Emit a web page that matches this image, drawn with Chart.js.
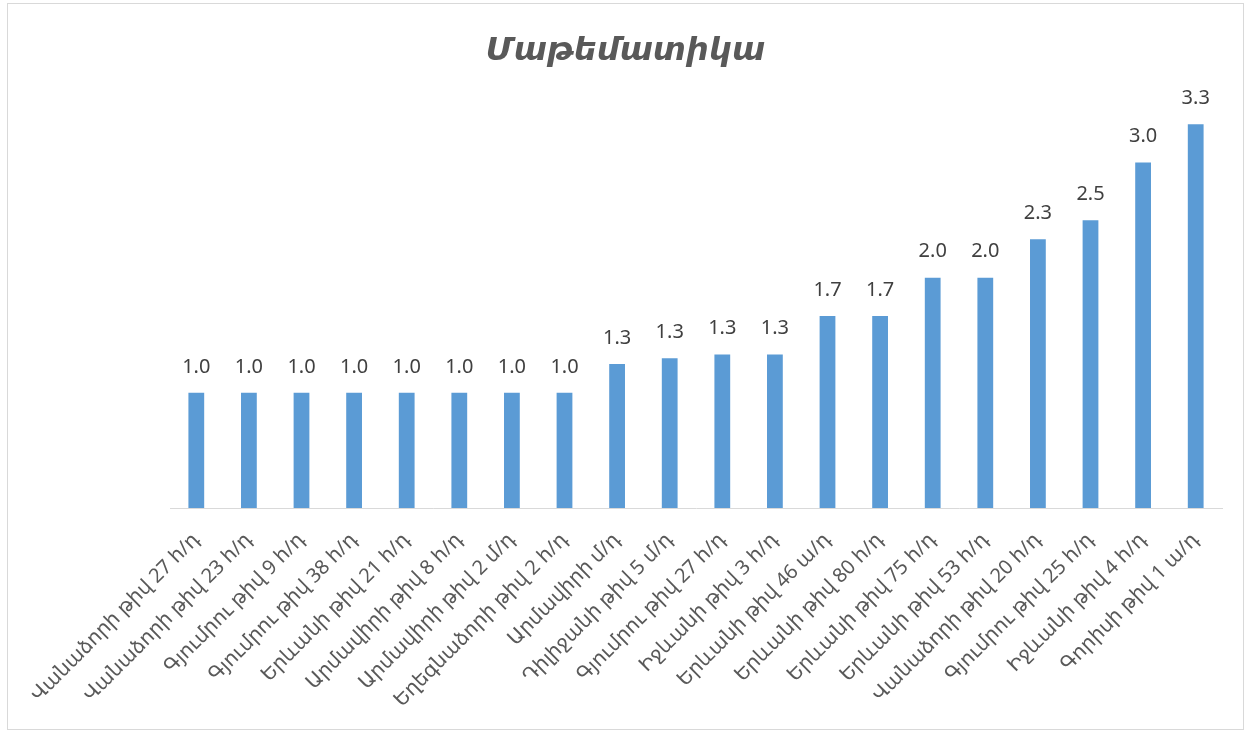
<!DOCTYPE html>
<html>
<head>
<meta charset="utf-8">
<script src="https://cdn.jsdelivr.net/npm/chart.js@4.4.1/dist/chart.umd.min.js"></script>
<style>
  html, body { margin: 0; padding: 0; background: #fff; }
  #wrap { position: relative; width: 1251px; height: 734px; }
  #frame { position: absolute; left: 7px; top: 3px; width: 1237px; height: 727px; border: 1px solid #d9d9d9; box-sizing: border-box; }
  canvas { position: absolute; left: 0; top: 0; }
</style>
</head>
<body>
<div id="wrap">
  <div id="frame"></div>
  <canvas id="chart" width="1251" height="734"></canvas>
</div>
<script>
const chartTitle = 'Մաթեմատիկա';
// schools (x categories)
const schools = [
  'Վանաձորի թիվ 27 հ/դ',
  'Վանաձորի թիվ 23 հ/դ',
  'Գյումրու թիվ 9 հ/դ',
  'Գյումրու թիվ 38 հ/դ',
  'Երևանի թիվ 21 հ/դ',
  'Արմավիրի թիվ 8 հ/դ',
  'Արմավիրի թիվ 2 մ/դ',
  'Եղեգնաձորի թիվ 2 հ/դ',
  'Արմավիրի մ/դ',
  'Դիլիջանի թիվ 5 մ/դ',
  'Գյումրու թիվ 27 հ/դ',
  'Իջևանի թիվ 3 հ/դ',
  'Երևանի թիվ 46 ա/դ',
  'Երևանի թիվ 80 հ/դ',
  'Երևանի թիվ 75 հ/դ',
  'Երևանի թիվ 53 հ/դ',
  'Վանաձորի թիվ 20 հ/դ',
  'Գյումրու թիվ 25 հ/դ',
  'Իջևանի թիվ 4 հ/դ',
  'Գորիսի թիվ 1 ա/դ'
];
// average scores
const scores = [1, 1, 1, 1, 1, 1, 1, 1, 1.25, 1.3, 1.333, 1.333, 1.667, 1.667, 2, 2, 2.333, 2.5, 3, 3.333];

const FONT = '"Noto Sans", "DejaVu Sans", sans-serif';

// value labels above the bars + title centred on the whole page
const barLabels = {
  id: 'barLabels',
  afterDatasetsDraw(chart) {
    const ctx = chart.ctx;
    const meta = chart.getDatasetMeta(0);
    ctx.save();
    ctx.font = '20px ' + FONT;
    ctx.fillStyle = '#404040';
    ctx.textAlign = 'center';
    ctx.textBaseline = 'bottom';
    meta.data.forEach((bar, i) => {
      ctx.fillText(scores[i].toFixed(1), bar.x, bar.y - 16);
    });
    ctx.font = 'italic bold 32px ' + FONT;
    ctx.fillStyle = '#595959';
    ctx.textBaseline = 'middle';
    ctx.fillText(chartTitle, chart.width / 2, 51);
    ctx.restore();
  }
};

new Chart(document.getElementById('chart'), {
  type: 'bar',
  data: {
    labels: schools,
    datasets: [{
      data: scores,
      backgroundColor: '#5b9bd5',
      barPercentage: 0.3,
      categoryPercentage: 1.0
    }]
  },
  options: {
    responsive: false,
    animation: false,
    layout: { padding: { left: 170, right: 29, top: 105, bottom: 0 } },
    plugins: {
      legend: { display: false },
      tooltip: { enabled: false },
      title: { display: false }
    },
    scales: {
      x: {
        grid: { display: false, drawTicks: false },
        border: { display: true, color: '#d9d9d9', width: 1 },
        ticks: {
          autoSkip: false,
          minRotation: 45,
          maxRotation: 45,
          padding: 20,
          color: '#595959',
          font: { family: FONT, size: 20 }
        },
        afterFit(scale) { scale.height = 226; }
      },
      y: {
        display: false,
        min: 0,
        max: 3.5
      }
    }
  },
  plugins: [barLabels]
});
</script>
</body>
</html>
